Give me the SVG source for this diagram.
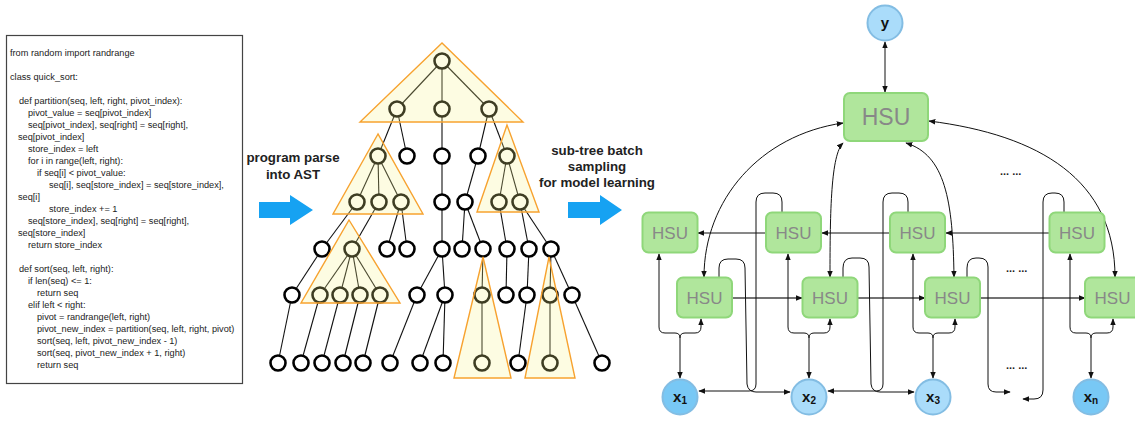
<svg xmlns="http://www.w3.org/2000/svg" width="1135" height="422" viewBox="0 0 1135 422">
<style>
.code{font-family:"Liberation Sans",Arial,sans-serif;font-size:9.2px;fill:#222}
.lbl{font-family:"Liberation Sans",Arial,sans-serif;font-size:13.3px;font-weight:bold;fill:#222;text-anchor:middle}
.te{stroke:#111;stroke-width:1.1}
.tn{fill:#fff;stroke:#000;stroke-width:2.6}
.tri{fill:#f8f28a;fill-opacity:0.25;stroke:#f7a22f;stroke-width:1.4}
.hsu{fill:#b0e69c;stroke:#8fd77a;stroke-width:2}
.ht{font-family:"Liberation Sans",Arial,sans-serif;font-size:17px;fill:#888;text-anchor:middle}
.xn{stroke:#83bde3;stroke-width:2}
.xt{font-family:"Liberation Sans",Arial,sans-serif;font-size:15px;font-weight:bold;fill:#111;text-anchor:middle}
.c{fill:none;stroke:#111;stroke-width:1}
.cb{fill:none;stroke:#444;stroke-width:1.5}
.dots{font-family:"Liberation Sans",Arial,sans-serif;font-size:11px;font-weight:bold;fill:#222}
</style>
<defs>
<marker id="ah" viewBox="0 0 10 10" refX="9" refY="5" markerWidth="7" markerHeight="7" markerUnits="userSpaceOnUse" orient="auto-start-reverse"><path d="M0,1 L10,5 L0,9 z" fill="#111"/></marker>
</defs>

<g id="code">
<rect x="6.5" y="35.5" width="236" height="348" fill="#fff" stroke="#444" stroke-width="1.2"/>
<text class="code" x="10" y="56">from random import randrange</text>
<text class="code" x="10" y="80">class quick_sort:</text>
<text class="code" x="19" y="104">def partition(seq, left, right, pivot_index):</text>
<text class="code" x="28" y="116">pivot_value = seq[pivot_index]</text>
<text class="code" x="28" y="128">seq[pivot_index], seq[right] = seq[right],</text>
<text class="code" x="18" y="140">seq[pivot_index]</text>
<text class="code" x="28" y="152">store_index = left</text>
<text class="code" x="28" y="164">for i in range(left, right):</text>
<text class="code" x="37" y="176">if seq[i] &lt; pivot_value:</text>
<text class="code" x="49" y="188">seq[i], seq[store_index] = seq[store_index],</text>
<text class="code" x="18" y="200">seq[i]</text>
<text class="code" x="49" y="212">store_index += 1</text>
<text class="code" x="28" y="224">seq[store_index], seq[right] = seq[right],</text>
<text class="code" x="18" y="236">seq[store_index]</text>
<text class="code" x="28" y="248">return store_index</text>
<text class="code" x="19" y="272">def sort(seq, left, right):</text>
<text class="code" x="28" y="284">if len(seq) &lt;= 1:</text>
<text class="code" x="37" y="296">return seq</text>
<text class="code" x="28" y="308">elif left &lt; right:</text>
<text class="code" x="37" y="320">pivot = randrange(left, right)</text>
<text class="code" x="37" y="332">pivot_new_index = partition(seq, left, right, pivot)</text>
<text class="code" x="37" y="344">sort(seq, left, pivot_new_index - 1)</text>
<text class="code" x="37" y="356">sort(seq, pivot_new_index + 1, right)</text>
<text class="code" x="37" y="368">return seq</text>
</g>

<g id="arrow-parse">
<text class="lbl" x="293" y="162">program parse</text>
<text class="lbl" x="293" y="179">into AST</text>
<path d="M259,202 H290 V195 L313,210 L290,225 V218 H259 Z" fill="#16a2f2"/>
</g>
<g id="arrow-sample">
<text class="lbl" x="597" y="155">sub-tree batch</text>
<text class="lbl" x="597" y="171">sampling</text>
<text class="lbl" x="597" y="187">for model learning</text>
<path d="M568,202 H600 V195 L622,210 L600,225 V218 H568 Z" fill="#16a2f2"/>
</g>

<g id="ast">
<g id="ast-edges" class="te">
<line x1="442" y1="61" x2="397" y2="109"/><line x1="442" y1="61" x2="442" y2="109"/><line x1="442" y1="61" x2="489" y2="109"/>
<line x1="397" y1="109" x2="378" y2="156"/><line x1="397" y1="109" x2="407" y2="156"/>
<line x1="442" y1="109" x2="442" y2="156"/>
<line x1="489" y1="109" x2="478" y2="156"/><line x1="489" y1="109" x2="507" y2="156"/>
<line x1="378" y1="156" x2="357" y2="202"/><line x1="378" y1="156" x2="379" y2="202"/><line x1="378" y1="156" x2="401" y2="202"/>
<line x1="442" y1="156" x2="442" y2="202"/>
<line x1="478" y1="156" x2="465" y2="202"/>
<line x1="507" y1="156" x2="499" y2="202"/><line x1="507" y1="156" x2="520" y2="202"/>
<line x1="357" y1="202" x2="322" y2="249"/>
<line x1="379" y1="202" x2="352" y2="249"/>
<line x1="401" y1="202" x2="387" y2="249"/><line x1="401" y1="202" x2="407" y2="249"/>
<line x1="442" y1="202" x2="442" y2="249"/>
<line x1="465" y1="202" x2="462" y2="249"/><line x1="465" y1="202" x2="483" y2="249"/>
<line x1="499" y1="202" x2="507" y2="249"/>
<line x1="520" y1="202" x2="529" y2="249"/><line x1="520" y1="202" x2="551" y2="249"/>
<line x1="322" y1="249" x2="292" y2="295"/>
<line x1="352" y1="249" x2="320" y2="295"/><line x1="352" y1="249" x2="340" y2="295"/><line x1="352" y1="249" x2="360" y2="295"/><line x1="352" y1="249" x2="380" y2="295"/>
<line x1="442" y1="249" x2="417" y2="295"/><line x1="442" y1="249" x2="445" y2="295"/>
<line x1="483" y1="249" x2="482" y2="295"/>
<line x1="507" y1="249" x2="506" y2="295"/>
<line x1="529" y1="249" x2="527" y2="295"/>
<line x1="551" y1="249" x2="550" y2="295"/><line x1="551" y1="249" x2="572" y2="295"/>
<line x1="292" y1="295" x2="278" y2="363"/>
<line x1="320" y1="295" x2="301" y2="363"/>
<line x1="340" y1="295" x2="322" y2="363"/>
<line x1="360" y1="295" x2="343" y2="363"/>
<line x1="380" y1="295" x2="363" y2="363"/>
<line x1="417" y1="295" x2="390" y2="363"/>
<line x1="445" y1="295" x2="420" y2="363"/><line x1="445" y1="295" x2="443" y2="363"/>
<line x1="482" y1="295" x2="482" y2="363"/>
<line x1="527" y1="295" x2="518" y2="363"/>
<line x1="550" y1="295" x2="550" y2="363"/>
<line x1="572" y1="295" x2="602" y2="363"/>
</g>
<g id="ast-nodes" class="tn">
<circle id="n0" cx="442" cy="61" r="7.5"/>
<circle id="n1a" cx="397" cy="109" r="7.5"/><circle id="n1b" cx="442" cy="109" r="7.5"/><circle id="n1c" cx="489" cy="109" r="7.5"/>
<circle id="n2a" cx="378" cy="156" r="7.5"/><circle id="n2b" cx="407" cy="156" r="7.5"/><circle id="n2c" cx="442" cy="156" r="7.5"/><circle id="n2d" cx="478" cy="156" r="7.5"/><circle id="n2e" cx="507" cy="156" r="7.5"/>
<circle id="n3a" cx="357" cy="202" r="7.5"/><circle id="n3b" cx="379" cy="202" r="7.5"/><circle id="n3c" cx="401" cy="202" r="7.5"/><circle id="n3d" cx="442" cy="202" r="7.5"/><circle id="n3e" cx="465" cy="202" r="7.5"/><circle id="n3f" cx="499" cy="202" r="7.5"/><circle id="n3g" cx="520" cy="202" r="7.5"/>
<circle id="n4a" cx="322" cy="249" r="7.5"/><circle id="n4b" cx="352" cy="249" r="7.5"/><circle id="n4c" cx="387" cy="249" r="7.5"/><circle id="n4d" cx="407" cy="249" r="7.5"/><circle id="n4e" cx="442" cy="249" r="7.5"/><circle id="n4f" cx="462" cy="249" r="7.5"/><circle id="n4g" cx="483" cy="249" r="7.5"/><circle id="n4h" cx="507" cy="249" r="7.5"/><circle id="n4i" cx="529" cy="249" r="7.5"/><circle id="n4j" cx="551" cy="249" r="7.5"/>
<circle id="n5a" cx="292" cy="295" r="7.5"/><circle id="n5b" cx="320" cy="295" r="7.5"/><circle id="n5c" cx="340" cy="295" r="7.5"/><circle id="n5d" cx="360" cy="295" r="7.5"/><circle id="n5e" cx="380" cy="295" r="7.5"/><circle id="n5f" cx="417" cy="295" r="7.5"/><circle id="n5g" cx="445" cy="295" r="7.5"/><circle id="n5h" cx="482" cy="295" r="7.5"/><circle id="n5i" cx="506" cy="295" r="7.5"/><circle id="n5j" cx="527" cy="295" r="7.5"/><circle id="n5k" cx="550" cy="295" r="7.5"/><circle id="n5l" cx="572" cy="295" r="7.5"/>
<circle id="n6a" cx="278" cy="363" r="7.5"/><circle id="n6b" cx="301" cy="363" r="7.5"/><circle id="n6c" cx="322" cy="363" r="7.5"/><circle id="n6d" cx="343" cy="363" r="7.5"/><circle id="n6e" cx="363" cy="363" r="7.5"/><circle id="n6f" cx="390" cy="363" r="7.5"/><circle id="n6g" cx="420" cy="363" r="7.5"/><circle id="n6h" cx="443" cy="363" r="7.5"/><circle id="n6i" cx="482" cy="363" r="7.5"/><circle id="n6j" cx="518" cy="363" r="7.5"/><circle id="n6k" cx="550" cy="363" r="7.5"/><circle id="n6l" cx="602" cy="363" r="7.5"/>
</g>
<g id="ast-subtrees" class="tri">
<polygon points="442,43 360,122 523,122"/>
<polygon points="378,134 333,214 423,214"/>
<polygon points="349,220 301,303 400,303"/>
<polygon points="507,125 477,212 539,212"/>
<polygon points="483,257 454,378 511,378"/>
<polygon points="549,257 525,378 575,378"/>
</g>
</g>

<g id="connectors">
<path class="c" d="M885,42 L885,92" marker-start="url(#ah)" marker-end="url(#ah)"/>
<path class="c" d="M1049,233 L946,233" marker-end="url(#ah)"/>
<path class="c" d="M890,233 L822,233" marker-end="url(#ah)"/>
<path class="c" d="M766,233 L698,233" marker-end="url(#ah)"/>
<path class="cb" d="M732,298 L802,298" marker-end="url(#ah)"/>
<path class="cb" d="M857,298 L925,298" marker-end="url(#ah)"/>
<path class="cb" d="M980,298 L1085,298" marker-end="url(#ah)"/>
<path class="c" d="M680,338 L680,378" marker-end="url(#ah)"/>
<path class="c" d="M680,338 Q680,333 675,333 L665,333 Q659,333 659,327 L659,254" marker-end="url(#ah)"/>
<path class="c" d="M680,338 Q680,333 685,333 L695,333 Q701,333 701,327 L701,319" marker-end="url(#ah)"/>
<path class="c" d="M809,338 L809,378" marker-end="url(#ah)"/>
<path class="c" d="M809,338 Q809,333 804,333 L794,333 Q788,333 788,327 L788,254" marker-end="url(#ah)"/>
<path class="c" d="M809,338 Q809,333 814,333 L824,333 Q830,333 830,327 L830,319" marker-end="url(#ah)"/>
<path class="c" d="M933,338 L933,378" marker-end="url(#ah)"/>
<path class="c" d="M933,338 Q933,333 928,333 L919,333 Q913,333 913,327 L913,254" marker-end="url(#ah)"/>
<path class="c" d="M933,338 Q933,333 938,333 L949,333 Q955,333 955,327 L955,319" marker-end="url(#ah)"/>
<path class="c" d="M1091,338 L1091,378" marker-end="url(#ah)"/>
<path class="c" d="M1091,338 Q1091,333 1086,333 L1076,333 Q1070,333 1070,327 L1070,254" marker-end="url(#ah)"/>
<path class="c" d="M1091,338 Q1091,333 1096,333 L1107,333 Q1113,333 1113,327 L1113,319" marker-end="url(#ah)"/>
<path class="c" d="M782,212 L782,202 Q782,193 773,193 L765,193 Q756,193 756,202 L756,384 Q756,391 749,391 L699,391" marker-end="url(#ah)"/>
<path class="c" d="M719,277 L719,268 Q719,259 728,259 L736,259 Q745,259 745,268 L747,384 Q748,392 756,392 L790,392" marker-end="url(#ah)"/>
<path class="c" d="M908,212 L908,202 Q908,193 899,193 L892,193 Q883,193 883,202 L883,384 Q883,391 876,391 L828,391" marker-end="url(#ah)"/>
<path class="c" d="M843,277 L843,268 Q843,258 852,258 L860,258 Q869,258 869,267 L871,384 Q872,392 880,392 L914,392" marker-end="url(#ah)"/>
<path class="c" d="M967,277 L967,268 Q967,258 976,258 L979,258 Q988,258 988,267 L988,384 Q988,392 996,392 L1010,392" marker-end="url(#ah)"/>
<path class="c" d="M1064,212 L1064,202 Q1064,193 1055,193 L1052,193 Q1043,193 1043,202 L1043,390 Q1043,399 1034,399 L1023,399" marker-end="url(#ah)"/>
<path class="c" d="M704,277 C704,200 760,135 843,123" marker-start="url(#ah)" marker-end="url(#ah)"/>
<path class="c" d="M830,277 C830,210 831,155 843,143" marker-start="url(#ah)" marker-end="url(#ah)"/>
<path class="c" d="M954,277 C953,200 945,155 906,143" marker-start="url(#ah)" marker-end="url(#ah)"/>
<path class="c" d="M1115,277 C1115,180 1040,135 929,121" marker-start="url(#ah)" marker-end="url(#ah)"/>
</g>

<g id="y"><circle cx="885" cy="23" r="17.5" fill="#aadcfa" class="xn"/><text class="xt" x="885" y="28">y</text></g>
<g id="hsu-top"><rect class="hsu" x="844" y="93" width="84" height="48" rx="6"/><text class="ht" x="886" y="125" style="font-size:23px">HSU</text></g>
<g id="hsu-a1"><rect class="hsu" x="642.5" y="212.5" width="55" height="40" rx="6"/><text class="ht" x="670" y="239">HSU</text></g>
<g id="hsu-a2"><rect class="hsu" x="766" y="212.5" width="55" height="40" rx="6"/><text class="ht" x="793.5" y="239">HSU</text></g>
<g id="hsu-a3"><rect class="hsu" x="890" y="212.5" width="55" height="40" rx="6"/><text class="ht" x="917.5" y="239">HSU</text></g>
<g id="hsu-a4"><rect class="hsu" x="1049.5" y="212.5" width="55" height="40" rx="6"/><text class="ht" x="1077" y="239">HSU</text></g>
<g id="hsu-b1"><rect class="hsu" x="677" y="277.5" width="55" height="40" rx="6"/><text class="ht" x="704.5" y="304">HSU</text></g>
<g id="hsu-b2"><rect class="hsu" x="802.5" y="277.5" width="55" height="40" rx="6"/><text class="ht" x="830" y="304">HSU</text></g>
<g id="hsu-b3"><rect class="hsu" x="925" y="277.5" width="55" height="40" rx="6"/><text class="ht" x="952.5" y="304">HSU</text></g>
<g id="hsu-b4"><rect class="hsu" x="1085" y="277.5" width="55" height="40" rx="6"/><text class="ht" x="1112.5" y="304">HSU</text></g>
<g id="x1"><circle cx="680" cy="397" r="17.5" fill="#78c8f5" class="xn"/><text class="xt" x="680" y="402">x<tspan font-size="10" dy="2">1</tspan></text></g>
<g id="x2"><circle cx="809" cy="397" r="17.5" fill="#aadcfa" class="xn"/><text class="xt" x="809" y="402">x<tspan font-size="10" dy="2">2</tspan></text></g>
<g id="x3"><circle cx="933" cy="397" r="17.5" fill="#aadcfa" class="xn"/><text class="xt" x="933" y="402">x<tspan font-size="10" dy="2">3</tspan></text></g>
<g id="xn"><circle cx="1091" cy="397" r="17.5" fill="#78c8f5" class="xn"/><text class="xt" x="1091" y="402">x<tspan font-size="10" dy="2">n</tspan></text></g>

<text class="dots" x="1000" y="175">... ...</text>
<text class="dots" x="1006" y="272">... ...</text>
<text class="dots" x="1006" y="369">... ...</text>
</svg>
